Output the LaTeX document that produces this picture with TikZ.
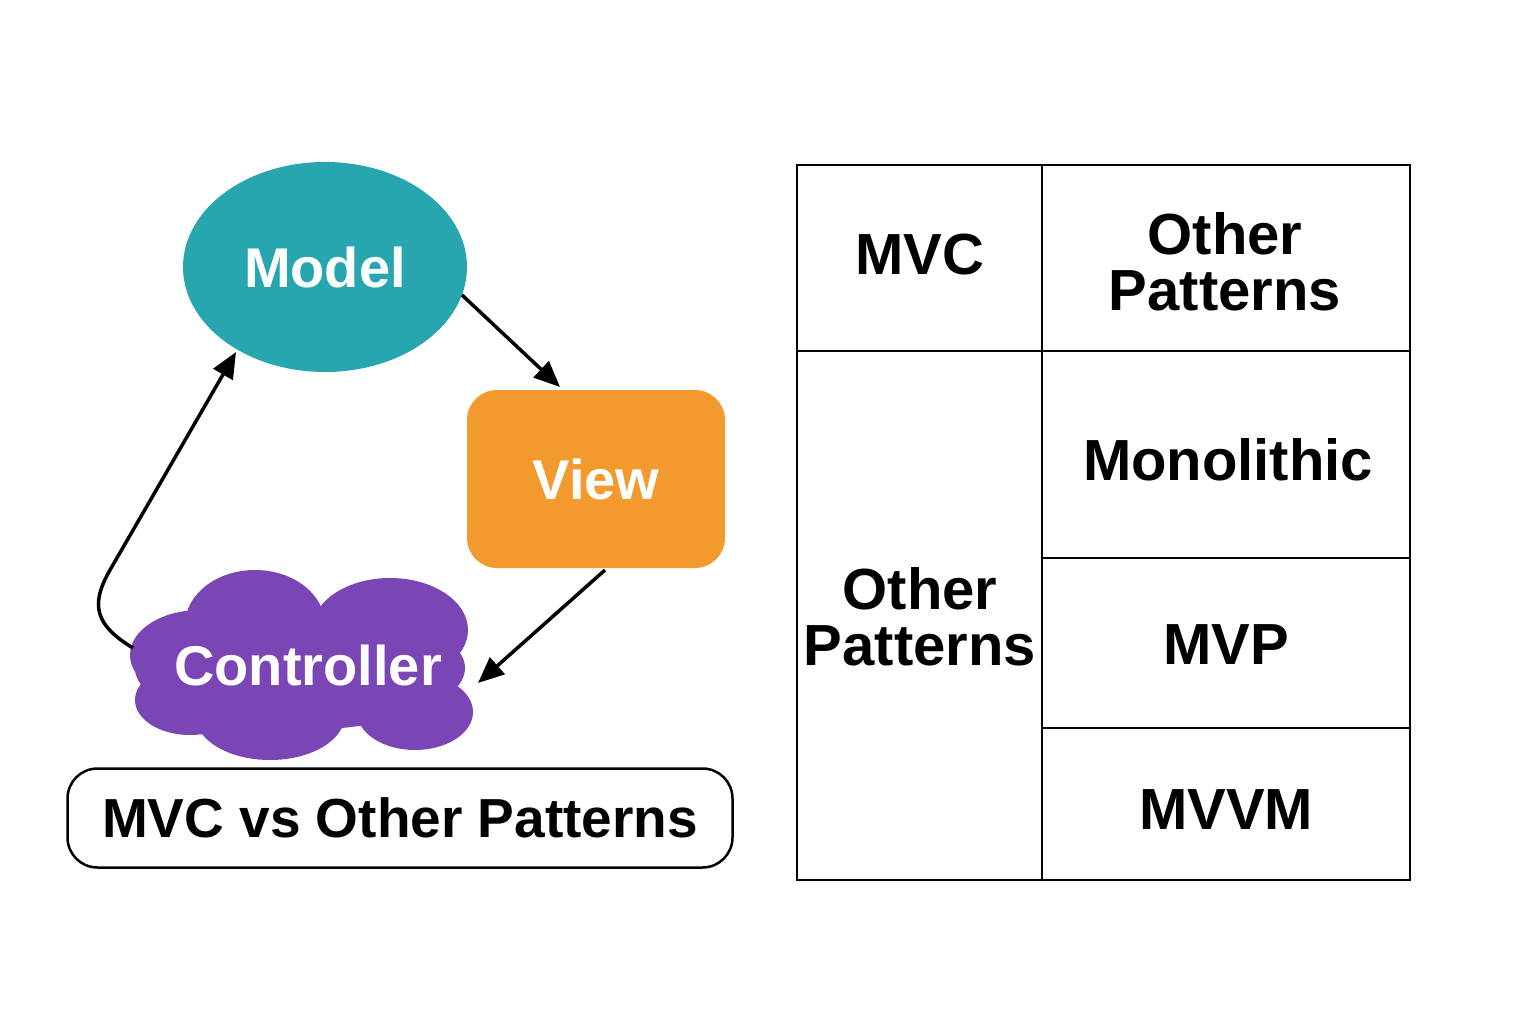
\documentclass[tikz,border=0pt]{standalone}
\usepackage{fontspec}
\setmainfont{Liberation Sans}
\usetikzlibrary{shapes.geometric,arrows.meta}
\definecolor{teal1}{HTML}{27A6B0}
\definecolor{orange1}{HTML}{F39A2E}
\definecolor{purple1}{HTML}{7A45B5}
\begin{document}
\begin{tikzpicture}[x=1pt,y=-1pt,
  lbl/.style={font=\fontsize{56}{60}\selectfont\bfseries,text=white},
  tab/.style={font=\fontsize{58}{56}\selectfont\bfseries,align=center},
  arr/.style={line width=3.5pt,-{Triangle[length=26pt,width=22pt]}}]
\useasboundingbox[fill=white] (0,0) rectangle (1536,1024);
\node[ellipse,fill=teal1,minimum width=284,minimum height=210,lbl] (model) at (325,267) {Model};
\node[rounded corners=30pt,fill=orange1,minimum width=258,minimum height=178,lbl] (view) at (596,479) {View};
\begin{scope}[fill=purple1]
\fill (300,668) ellipse[x radius=165,y radius=62];
\fill (255,625) ellipse[x radius=70,y radius=55];
\fill (390,630) ellipse[x radius=78,y radius=52];
\fill (200,655) ellipse[x radius=70,y radius=45];
\fill (270,715) ellipse[x radius=75,y radius=45];
\fill (415,712) ellipse[x radius=58,y radius=38];
\fill (190,700) ellipse[x radius=55,y radius=35];
\end{scope}
\node[lbl] (ctrl) at (308,665) {Controller};
\coordinate (m1) at (462,295); \coordinate (v1) at (560,387);
\draw[arr] (m1) -- (v1);
\coordinate (v2) at (605,570); \coordinate (c1) at (478,683);
\draw[arr] (v2) -- (c1);
\coordinate (c2) at (133,648); \coordinate (m2) at (236,352);
\draw[arr] (c2) .. controls (95,625) and (90,605) .. (110,570) -- (m2);
\node[draw,line width=2.5pt,rounded corners=30pt,minimum width=665,minimum height=99,font=\fontsize{55}{58}\selectfont\bfseries] (title) at (400,818) {MVC vs Other Patterns};
\draw[line width=2.5pt] (797,165) rectangle (1410,880);
\draw[line width=2.5pt] (1042,165) -- (1042,880);
\draw[line width=2.5pt] (797,351) -- (1410,351);
\draw[line width=2.5pt] (1042,558) -- (1410,558);
\draw[line width=2.5pt] (1042,728) -- (1410,728);
\node[tab] (t1) at (920,255) {MVC};
\node[tab] (t2) at (1225,262) {Other\\Patterns};
\node[tab] (t3) at (920,617) {Other\\Patterns};
\node[tab] (t4) at (1228,460) {Monolithic};
\node[tab] (t5) at (1226,645) {MVP};
\node[tab] (t6) at (1226,810) {MVVM};
\end{tikzpicture}
\end{document}
